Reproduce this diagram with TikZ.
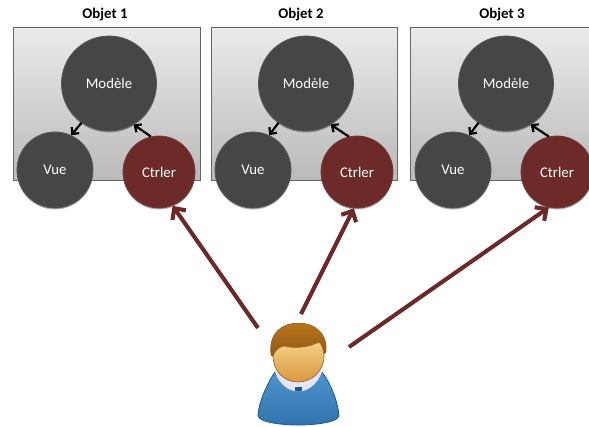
\documentclass[tikz,border=0pt]{standalone}
\usepackage{fontspec}
\setmainfont{Carlito}
\usetikzlibrary{arrows.meta,shadows}
\definecolor{darkball}{HTML}{464646}
\definecolor{redball}{HTML}{6C2A28}
\definecolor{arrowred}{HTML}{6B2A28}
\tikzset{
  objbox/.style={draw=black!60,line width=0.7pt,top color=black!8,bottom color=black!27,minimum width=#1,minimum height=153pt,inner sep=0pt,
     drop shadow={shadow xshift=0pt,shadow yshift=-1.2pt,opacity=.25,fill=black}},
  ball/.style={circle,fill=darkball,draw=darkball!92!white,line width=0.8pt,inner sep=0pt,text=white,font=\fontsize{14.8pt}{16pt}\selectfont,minimum size=#1,
     drop shadow={shadow xshift=0pt,shadow yshift=-1.5pt,opacity=.3,fill=black}},
  ctrl/.style={circle,fill=redball,draw=redball!92!white,line width=0.8pt,inner sep=0pt,text=white,font=\fontsize{14.8pt}{16pt}\selectfont,minimum size=72pt,
     drop shadow={shadow xshift=0pt,shadow yshift=-1.5pt,opacity=.3,fill=black}},
  title/.style={font=\bfseries\fontsize{14.8pt}{16pt}\selectfont,inner sep=0pt},
  small/.style={-{Straight Barb[length=5pt,width=9.5pt]},line width=2.2pt,black},
  big/.style={-{Straight Barb[length=8.5pt,width=16.5pt]},line width=4.1pt,arrowred},
}
\begin{document}
\begin{tikzpicture}[x=1pt,y=-1pt]
\useasboundingbox (0,0) rectangle (589,426);
\fill[white] (0,0) rectangle (589,426);
\begin{scope}
\clip (0,0) rectangle (589,426);
% Object 1
\node[objbox=187pt] (b1) at (106.5,103.5) {};
\node[title] (t1) at (105,15) {Objet 1};
\node[ball=95pt] (m1) at (109,83.5) {Modèle};
\node[ball=76pt] (v1) at (55,170) {Vue};
\node[ctrl] (c1) at (159,172) {Ctrler};
\draw[small] (m1.235) -- (v1.65);
\draw[small] (c1.103) -- (m1.301);
% Object 2
\node[objbox=186pt] (b2) at (304,103.5) {};
\node[title] (t2) at (301,15) {Objet 2};
\node[ball=95pt] (m2) at (306,83.5) {Modèle};
\node[ball=76pt] (v2) at (253,170) {Vue};
\node[ctrl] (c2) at (357,172) {Ctrler};
\draw[small] (m2.235) -- (v2.65);
\draw[small] (c2.103) -- (m2.301);
% Object 3
\node[objbox=187pt] (b3) at (503.5,103.5) {};
\node[title] (t3) at (502,15) {Objet 3};
\node[ball=95pt] (m3) at (506,83.5) {Modèle};
\node[ball=76pt] (v3) at (453,170) {Vue};
\node[ctrl] (c3) at (557,172) {Ctrler};
\draw[small] (m3.235) -- (v3.65);
\draw[small] (c3.103) -- (m3.301);
% Person anchors
\coordinate (p1) at (258,328);
\coordinate (p2) at (301,314);
\coordinate (p3) at (349,347);
\draw[big] (p1) -- (c1.292);
\draw[big] (p2) -- (c2.265);
\draw[big] (p3) -- (c3.257);
% body
\definecolor{bodyhi}{HTML}{4F94CC}
\definecolor{bodylo}{HTML}{2F74AC}
\definecolor{bodyrim}{HTML}{1E5A88}
\draw[draw=bodyrim,line width=0.8pt,top color=bodyhi,bottom color=bodylo]
  (275,372) .. controls (266,385) and (258,405) .. (258,416)
  .. controls (260,423) and (285,425) .. (298,425)
  .. controls (312,425) and (337,423) .. (339,416)
  .. controls (338,402) and (331,384) .. (322,372)
  .. controls (314,392) and (283,392) .. (275,372) -- cycle;
% collar
\fill[white!90!blue] (275,372) -- (278,369) -- (318,369) -- (322,372)
  .. controls (318,383) and (310,389) .. (303,391) -- (294,391)
  .. controls (286,389) and (279,383) .. (275,372) -- cycle;
\fill[bodyrim] (295,387) rectangle (302,391);
% hair
\definecolor{hairhi}{HTML}{B8741C}
\definecolor{hairlo}{HTML}{8A5410}
\fill[top color=hairhi,bottom color=hairlo] (271,355) .. controls (268,333) and (282,323) .. (298,323)
  .. controls (316,323) and (328,334) .. (326,352) .. controls (324,358) and (275,362) .. (271,355) -- cycle;
% face
\definecolor{facehi}{HTML}{F6CF85}
\definecolor{facelo}{HTML}{D9983E}
\draw[draw=facelo!70!black,line width=0.7pt,top color=facehi,bottom color=facelo] (298,382)
  .. controls (283,382) and (273,370) .. (273,356)
  .. controls (275,350) and (279,347) .. (284,346)
  .. controls (295,349) and (310,347) .. (319,342)
  .. controls (322,345) and (324,350) .. (324,356)
  .. controls (324,370) and (313,382) .. (298,382) -- cycle;
\end{scope}
\end{tikzpicture}
\end{document}
